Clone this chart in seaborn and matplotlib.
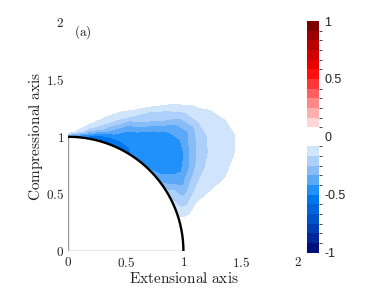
import numpy as np
import matplotlib
matplotlib.use("Agg")
import matplotlib.pyplot as plt
from matplotlib.colors import ListedColormap, BoundaryNorm
from matplotlib.ticker import FuncFormatter
import seaborn as sns

sns.set_style("white")
plt.rcParams["mathtext.fontset"] = "cm"
plt.rcParams["axes.unicode_minus"] = False

# particle radius and the polar sample grid around it
particle_r = 1.0
radius = [1.0, 1.05, 1.1, 1.15, 1.2, 1.3, 1.4, 1.5, 1.6, 1.7, 1.8, 1.9]
angle_deg = [0, 10, 15, 20, 25, 30, 35, 40, 45, 50, 55, 60, 65, 70, 75, 80, 85, 90]

# one row per angle, one column per radius
field = [
    [0, 0, 0, 0, 0, 0, 0, 0, 0, 0, 0, 0],
    [-0.02, -0.015, -0.01, -0.005, 0, 0, 0, 0, 0, 0, 0, 0],
    [-0.07, -0.06, -0.05, -0.04, -0.03, -0.015, -0.005, 0, 0, 0, 0, 0],
    [-0.10, -0.155, -0.15, -0.10, -0.07, -0.045, -0.025, -0.01, 0, 0, 0, 0],
    [-0.15, -0.20, -0.245, -0.22, -0.167, -0.13, -0.105, -0.085, -0.06, -0.03, -0.01, 0],
    [-0.20, -0.24, -0.30, -0.34, -0.28, -0.18, -0.15, -0.12, -0.10, -0.075, -0.04, -0.01],
    [-0.30, -0.36, -0.39, -0.41, -0.415, -0.32, -0.20, -0.16, -0.135, -0.11, -0.075, -0.03],
    [-0.38, -0.42, -0.44, -0.45, -0.45, -0.43, -0.30, -0.20, -0.155, -0.115, -0.08, -0.03],
    [-0.41, -0.44, -0.45, -0.46, -0.46, -0.44, -0.41, -0.31, -0.167, -0.11, -0.06, -0.02],
    [-0.43, -0.45, -0.46, -0.47, -0.47, -0.44, -0.40, -0.27, -0.15, -0.06, -0.01, 0],
    [-0.48, -0.47, -0.46, -0.46, -0.45, -0.41, -0.24, -0.167, -0.06, -0.02, 0, 0],
    [-0.56, -0.50, -0.47, -0.45, -0.42, -0.26, -0.175, -0.045, -0.02, 0, 0, 0],
    [-0.60, -0.52, -0.46, -0.42, -0.36, -0.17, -0.05, -0.02, 0, 0, 0, 0],
    [-0.62, -0.52, -0.40, -0.30, -0.19, -0.085, -0.03, 0, 0, 0, 0, 0],
    [-0.62, -0.50, -0.25, -0.16, -0.095, -0.04, -0.01, 0, 0, 0, 0, 0],
    [-0.62, -0.34, -0.15, -0.075, -0.04, -0.01, 0, 0, 0, 0, 0, 0],
    [-0.56, -0.14, -0.05, -0.02, 0, 0, 0, 0, 0, 0, 0, 0],
    [-0.40, -0.02, 0, 0, 0, 0, 0, 0, 0, 0, 0, 0],
]

ax_ticks = [0, 0.5, 1, 1.5, 2]
cbar_ticks = [-1, -0.5, 0, 0.5, 1]

# 11 blues, white centre, 11 reds
blues = ["#00107a", "#00269a", "#003cb4", "#0052c8", "#0064dc", "#0076ee",
         "#2090fa", "#5aa8f6", "#87bcf7", "#acd0fa", "#d0e4fc"]
reds = ["#ffd6d6", "#ffafaf", "#ff8787", "#ff5f5f", "#ff3737", "#ff0f0f",
        "#eb0000", "#d20000", "#b90000", "#9b0000", "#7d0000"]
cmap = ListedColormap(blues + ["#ffffff", "#ffffff"] + reds)
levels = np.linspace(-1, 1, 25)
norm = BoundaryNorm(levels, cmap.N)

T, R = np.meshgrid(np.radians(angle_deg), radius, indexing="ij")
X = R * np.cos(T)
Y = R * np.sin(T)
Z = np.array(field)

fig = plt.figure(figsize=(3.89, 2.92), dpi=100)
ax = fig.add_axes([0.176, 0.140, 0.591, 0.783])
cax = fig.add_axes([0.790, 0.135, 0.029, 0.793])

cs = ax.contourf(X, Y, Z, levels=levels, cmap=cmap, norm=norm)

# particle surface and symmetry walls
arc_t = np.linspace(0, np.pi / 2, 200)
sns.lineplot(x=particle_r * np.cos(arc_t), y=particle_r * np.sin(arc_t), sort=False,
             color="black", lw=1.7, ax=ax, zorder=5)
ax.plot([0, 0], [0, particle_r], color="#999999", lw=1.0, zorder=4)
ax.plot([0, particle_r], [0, 0], color="#999999", lw=1.0, zorder=4)

ax.set_xlim(0, 2)
ax.set_ylim(0, 2)
ax.set_xticks(ax_ticks)
ax.set_yticks(ax_ticks)
fmt = FuncFormatter(lambda v, _: "$%g$" % v)
ax.xaxis.set_major_formatter(fmt)
ax.yaxis.set_major_formatter(fmt)
ax.tick_params(length=0, labelsize=9.5, colors="#222222")
ax.tick_params(axis="x", pad=3.5)
ax.tick_params(axis="y", pad=3)
for s in ax.spines.values():
    s.set_visible(False)
ax.set_xlabel(r"$\mathrm{Extensional\ axis}$", fontsize=11, labelpad=1, color="#222222")
ax.set_ylabel(r"$\mathrm{Compressional\ axis}$", fontsize=11, labelpad=1, color="#222222")
ax.text(0.05, 1.92, r"$\mathrm{(a)}$", fontsize=9.5, va="center", color="#222222")

cb = fig.colorbar(cs, cax=cax, ticks=cbar_ticks)
cb.outline.set_visible(False)
cb.ax.yaxis.set_major_formatter(FuncFormatter(lambda v, _: "%g" % v))
cb.ax.tick_params(length=0, colors="#222222", labelsize=9, pad=4)
for lab in cb.ax.get_yticklabels():
    lab.set_family("Liberation Sans")

fig.savefig("out.png", dpi=100)
